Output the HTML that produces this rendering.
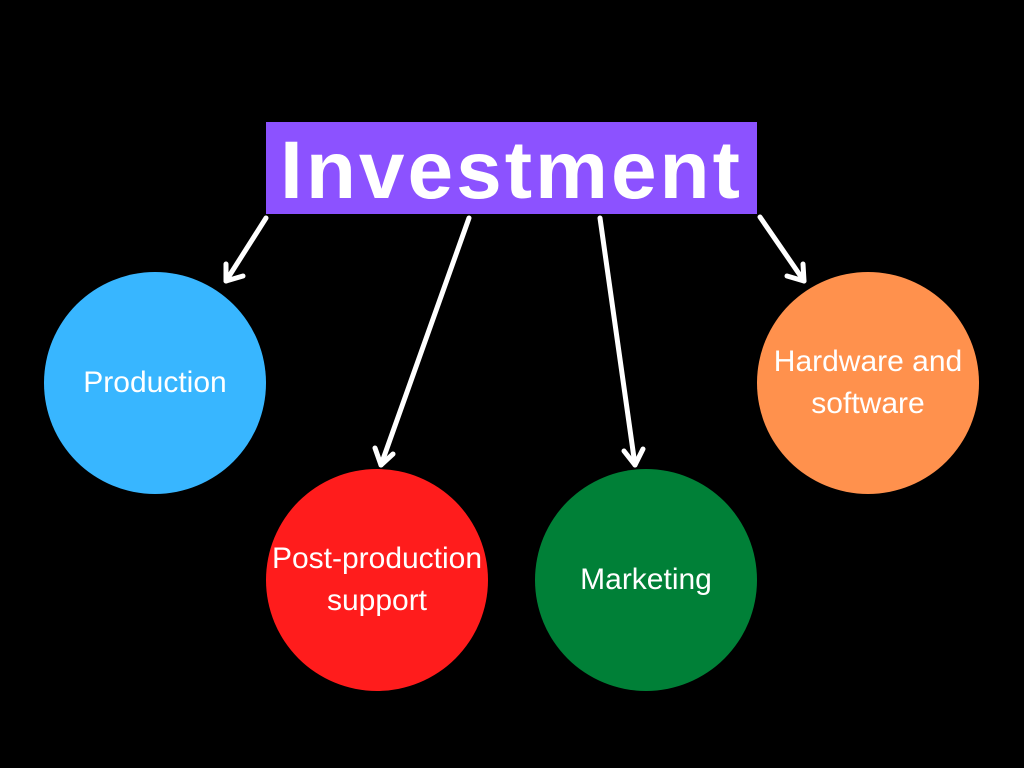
<!DOCTYPE html>
<html><head><style>
body{margin:0;width:1024px;height:768px;background:#000;overflow:hidden;position:relative;font-family:"Liberation Sans",sans-serif}
.box{position:absolute;left:266px;top:122px;width:491px;height:92px;background:#8c52ff;color:#fff;font-weight:bold;font-size:82px;text-align:center;line-height:98px;letter-spacing:3px}
.c{position:absolute;width:222px;height:222px;border-radius:50%;color:#fff;font-size:30px;display:flex;align-items:center;justify-content:center;text-align:center;line-height:42px;white-space:nowrap}
</style></head><body>
<div class="box">Investment</div>
<div class="c" style="left:44px;top:272px;background:#38b6ff">Production</div>
<div class="c" style="left:266px;top:469px;background:#ff1c1c">Post-production<br>support</div>
<div class="c" style="left:535px;top:469px;background:#008037">Marketing</div>
<div class="c" style="left:757px;top:272px;background:#ff914d">Hardware and<br>software</div>
<svg width="1024" height="768" style="position:absolute;left:0;top:0" fill="none" stroke="#fff" stroke-width="5" stroke-linecap="round" stroke-linejoin="round">
<line x1="266" y1="218" x2="226" y2="281"/><polyline points="226,264 226,281 243,276"/>
<line x1="469" y1="218" x2="381" y2="465"/><polyline points="375,448 381,465 393,454"/>
<line x1="600" y1="218" x2="635" y2="465"/><polyline points="624,451 635,465 643,449"/>
<line x1="760" y1="217" x2="804" y2="281"/><polyline points="787,276 804,281 803,264"/>
</svg>
</body></html>
